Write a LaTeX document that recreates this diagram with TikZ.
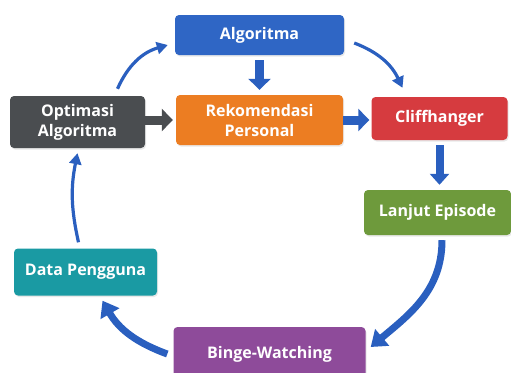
\documentclass[tikz,border=0pt]{standalone}
\usepackage{fontspec}
\setmainfont{Open Sans}
\usepackage{tikz}
\usetikzlibrary{shapes,arrows,arrows.meta,shadows}
\definecolor{algblue}{HTML}{2F66C5}
\definecolor{rekorange}{HTML}{EC7D22}
\definecolor{cliffred}{HTML}{D63B3F}
\definecolor{lanjutgreen}{HTML}{6E9A3C}
\definecolor{bingepurple}{HTML}{8E4B9A}
\definecolor{datateal}{HTML}{1A9AA3}
\definecolor{optgray}{HTML}{4A4D50}
\definecolor{arrowblue}{HTML}{2A5FBF}
\tikzstyle{box} = [rectangle, rounded corners=4pt, inner sep=0pt, align=center, text=white,
  font=\bfseries\fontsize{16}{20}\selectfont,
  drop shadow={opacity=0.18, shadow xshift=1pt, shadow yshift=-1.5pt}]
\tikzstyle{blockarrow} = [draw=arrowblue, line width=9pt, -{Triangle[length=11pt,width=22pt]}]
\tikzstyle{thinarrow} = [draw=arrowblue, line width=3.2pt, -{Triangle[length=11pt,width=12pt]}]
\tikzstyle{thickarrow} = [draw=arrowblue, line width=7pt, -{Triangle[length=15pt,width=21pt]}]

\begin{document}
\begin{tikzpicture}[x=1pt,y=-1pt,node distance=85pt]
\useasboundingbox (0,0) rectangle (511,372);

\node[box, fill=algblue, minimum width=169pt, minimum height=40pt] (alg) at (259.5,35) {Algoritma};
\node[box, fill=rekorange, minimum width=167pt, minimum height=50pt, below of = alg] (rek) {Rekomendasi\\Personal};
\node[box, fill=optgray, minimum width=135pt, minimum height=52pt, left of = rek, node distance=182pt, yshift=-2pt] (opt) {Optimasi\\Algoritma};
\node[box, fill=cliffred, minimum width=136pt, minimum height=43pt, right of = rek, node distance=180pt, yshift=1.5pt] (cliff) {Cliffhanger};
\node[box, fill=lanjutgreen, minimum width=147pt, minimum height=45pt, below of = cliff, node distance=94pt, xshift=-2pt] (lanjut) {Lanjut Episode};
\node[box, fill=bingepurple, minimum width=192pt, minimum height=54pt, below of = rek, node distance=234pt, xshift=10pt] (binge) {Binge-Watching};
\node[box, fill=datateal, minimum width=143pt, minimum height=47pt, below of = opt, node distance=150pt, xshift=8pt] (data) {Data Pengguna};

\path
(alg.south) edge [blockarrow, shorten <=5pt, shorten >=5pt] node {} (rek.north)
(opt.east |- rek.west) edge [blockarrow, draw=optgray, shorten >=3pt] node {} (rek.west)
(rek.east) edge [blockarrow, shorten >=2pt] node {} (rek.east -| cliff.west)
(cliff.south) edge [blockarrow, line width=8pt, shorten <=5pt, shorten >=5pt,
  -{Triangle[length=11pt,width=19pt]}] node {} (cliff.south |- lanjut.north)
([xshift=40pt,yshift=7pt]opt.north) edge [thinarrow, bend left=25] node {} ([xshift=-7pt,yshift=-10pt]alg.west)
([xshift=10pt,yshift=-8pt]alg.east) edge [thinarrow, bend left=22] node {} ([xshift=-37pt,yshift=9pt]cliff.north)
([xshift=4.5pt,yshift=-5pt]lanjut.south) edge [thickarrow, out=270, in=40] node {} ([xshift=5pt,yshift=7pt]binge.east)
([xshift=-6pt,yshift=0pt]binge.west) edge [thickarrow, out=160, in=-60] node {} ([xshift=17pt,yshift=-5pt]data.south)
([xshift=-7pt,yshift=6pt]data.north) edge [thinarrow, bend left=12] node {} ([yshift=-5pt]opt.south);
\end{tikzpicture}
\end{document}
